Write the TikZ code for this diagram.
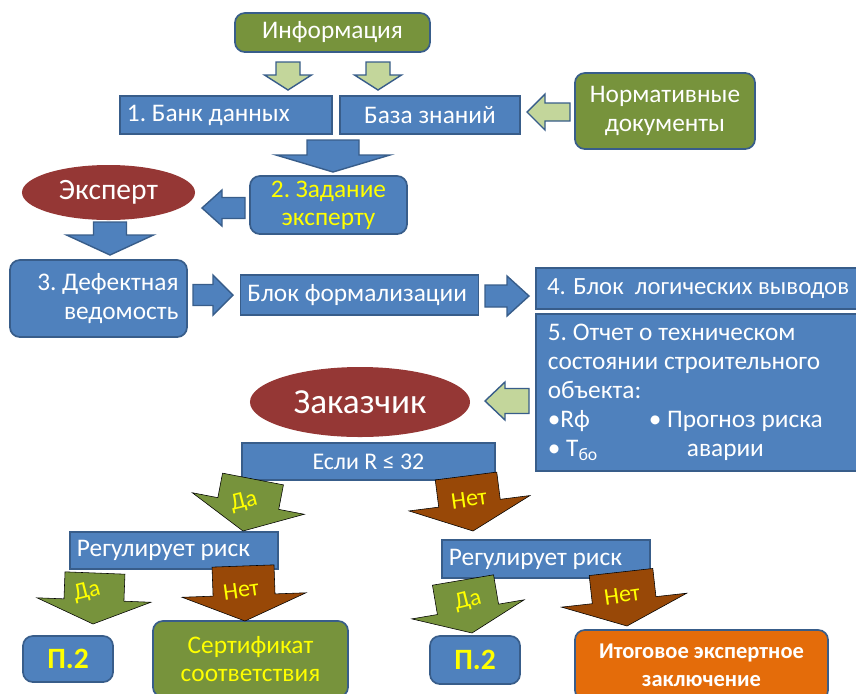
\documentclass[tikz,border=0pt]{standalone}
\usepackage{fontspec}
\setmainfont{Carlito}
\usetikzlibrary{calc, positioning, shapes.geometric}
\definecolor{boxblue}{RGB}{79,129,189}
\definecolor{edgeblue}{RGB}{56,93,138}
\definecolor{olive}{RGB}{119,147,60}
\definecolor{palegreen}{RGB}{195,214,155}
\definecolor{darkred}{RGB}{149,55,53}
\definecolor{rust}{RGB}{152,72,7}
\definecolor{orangebox}{RGB}{228,108,10}
\definecolor{signyellow}{RGB}{255,255,0}

% block arrow: style, tail, tip, shaft width, head width, head length (all in px)
\newcommand{\blockarrow}[6]{%
  \coordinate (baS) at #2;
  \coordinate (baT) at #3;
  \coordinate (baH) at ($(baT)!#6*0.025cm!(baS)$);
  \draw[#1] ($(baS)!#4*0.0125cm!90:(baT)$) -- ($(baH)!#4*0.0125cm!90:(baT)$)
    -- ($(baH)!#5*0.0125cm!90:(baT)$) -- (baT)
    -- ($(baH)!#5*0.0125cm!-90:(baT)$) -- ($(baH)!#4*0.0125cm!-90:(baT)$)
    -- ($(baS)!#4*0.0125cm!-90:(baT)$) -- cycle;
}

\tikzset{
  card/.style={draw=edgeblue, line width=1.2pt, text=white, inner xsep=5pt,
    font=\fontsize{18}{20}\selectfont\frenchspacing},
  bluebox/.style={card, fill=boxblue},
  roundblue/.style={bluebox, rounded corners=7pt},
  greenbox/.style={card, fill=olive, rounded corners=7pt},
  oval/.style={ellipse, fill=darkred, text=white, inner sep=0pt},
  bluearrow/.style={draw=edgeblue, line width=1pt, fill=boxblue},
  palearrow/.style={draw=edgeblue, line width=1pt, fill=palegreen},
  yesarrow/.style={fill=olive},
  noarrow/.style={fill=rust},
  tag/.style={text=signyellow, inner sep=1pt, font=\fontsize{17}{19}\selectfont}
}

\begin{document}
\begin{tikzpicture}[x=0.025cm, y=-0.025cm]
  \useasboundingbox (0,0) rectangle (856,693);

  % Top row
  \node[greenbox, minimum width=4.875cm, minimum height=0.975cm] (info) at (332.5,32.5) {Информация};
  \node[bluebox, minimum width=5.3cm, minimum height=0.95cm, text width=4.95cm, align=flush left] (bank) at (226,115) {1. Банк данных};
  \node[bluebox, minimum width=4.5cm, minimum height=0.95cm] (kbase) at (430,115) {База знаний};
  \node[greenbox, minimum width=4.5cm, minimum height=1.9cm, align=flush center] (norm) at (665,111) {Нормативные\\документы};

  % Expert
  \node[roundblue, text=signyellow, minimum width=3.925cm, minimum height=1.35cm, align=flush center] (task) at (328.5,205) {2. Задание\\эксперту};
  \node[oval, minimum width=4.325cm, minimum height=1.375cm, font=\fontsize{21}{24}\selectfont] (expert) at (108.5,192.5) {Эксперт};
  \node[roundblue, minimum width=4.425cm, minimum height=1.925cm, text width=4.0cm, align=flush right] (defect) at (98.5,298.5) {3. Дефектная\\ведомость};
  \node[bluebox, minimum width=5.875cm, minimum height=1cm, text width=5.6cm, align=flush left] (formal) at (359.5,295) {Блок формализации};

  % Right column (runs past the right edge)
  \node[bluebox, anchor=west, minimum height=1.025cm, text width=9cm, inner xsep=0.28cm, align=flush left,
        font=\fontsize{17.6}{20}\selectfont] (logic) at (535,288.5) {4. Блок\hspace{0.45em}логических выводов};
  \node[bluebox, anchor=west, minimum height=3.925cm, text width=9cm, inner xsep=0.3cm, align=flush left,
        font=\fontsize{18}{20.6}\selectfont\frenchspacing] (report) at (535,392.5)
    {5. Отчет о техническом\\
     состоянии строительного\\
     объекта:\\
     \makebox[2.525cm][l]{•Rф}• Прогноз риска\\
     \makebox[3.475cm][l]{• T\textsubscript{бо}}аварии};

  % Customer and decisions
  \node[oval, minimum width=5.5cm, minimum height=1.75cm, font=\fontsize{25}{28}\selectfont] (customer) at (360,402) {Заказчик};
  \node[bluebox, minimum width=6.325cm, minimum height=0.925cm, font=\fontsize{17}{20}\selectfont] (cond) at (368.5,461.5) {Если R ≤ 32};
  \node[bluebox, minimum width=5.15cm, minimum height=0.925cm, text width=4.85cm, align=flush left] (riskL) at (174,550.5) {Регулирует риск};
  \node[bluebox, minimum width=5.15cm, minimum height=0.95cm, text width=4.85cm, align=flush left] (riskR) at (546,559) {Регулирует риск};

  % Outcomes
  \node[roundblue, text=signyellow, minimum width=2.25cm, minimum height=1.15cm, font=\fontsize{21}{24}\bfseries] (passL) at (68,659) {П.2};
  \node[greenbox, text=signyellow, minimum width=4.875cm, minimum height=1.9cm, align=flush center] (cert) at (250.5,659) {Сертификат\\соответствия};
  \node[roundblue, text=signyellow, minimum width=2.25cm, minimum height=1.2cm, font=\fontsize{21}{24}\bfseries] (passR) at (475,660) {П.2};
  \node[greenbox, fill=orangebox, minimum width=6.325cm, minimum height=1.75cm, align=flush center,
        font=\fontsize{16}{20}\bfseries] (final) at (701.5,665) {Итоговое экспертное\\заключение};

  % Block arrows
  \blockarrow{palearrow}{(288,62)}{(288,90)}{24}{47}{15}
  \blockarrow{palearrow}{(378,62)}{(378,90)}{24}{47}{15}
  \blockarrow{palearrow}{(570,112)}{(527,112)}{18}{36}{18}
  \blockarrow{bluearrow}{(333,140)}{(333,172)}{52}{114}{17}
  \blockarrow{bluearrow}{(245,208)}{(202,208)}{21}{36}{20}
  \blockarrow{bluearrow}{(110,222)}{(110,255)}{33}{87}{20}
  \blockarrow{bluearrow}{(193,295)}{(233,295)}{21}{40}{20}
  \blockarrow{bluearrow}{(485,296)}{(529,296)}{22}{40}{22}
  \blockarrow{palearrow}{(529,401)}{(485,401)}{25}{38}{20}

  % Yes / no arrows
  \blockarrow{yesarrow}{(253,479)}{(243,531)}{62}{114}{28}
  \blockarrow{noarrow}{(466,476)}{(473,531)}{62}{122}{28}
  \blockarrow{yesarrow}{(95,573)}{(93,624)}{60}{114}{24}
  \blockarrow{noarrow}{(243,566)}{(245,621)}{62}{124}{26}
  \blockarrow{yesarrow}{(463,580)}{(472,633)}{62}{114}{24}
  \blockarrow{noarrow}{(621,572)}{(627,626)}{64}{126}{26}

  \node[tag, rotate=14] (yes1) at (244,502) {Да};
  \node[tag, rotate=8] (no1) at (469,499) {Нет};
  \node[tag, rotate=14] (yes2) at (87,592) {Да};
  \node[tag, rotate=8] (no2) at (241,590) {Нет};
  \node[tag, rotate=14] (yes3) at (468,601) {Да};
  \node[tag, rotate=8] (no3) at (622,595) {Нет};
\end{tikzpicture}
\end{document}
